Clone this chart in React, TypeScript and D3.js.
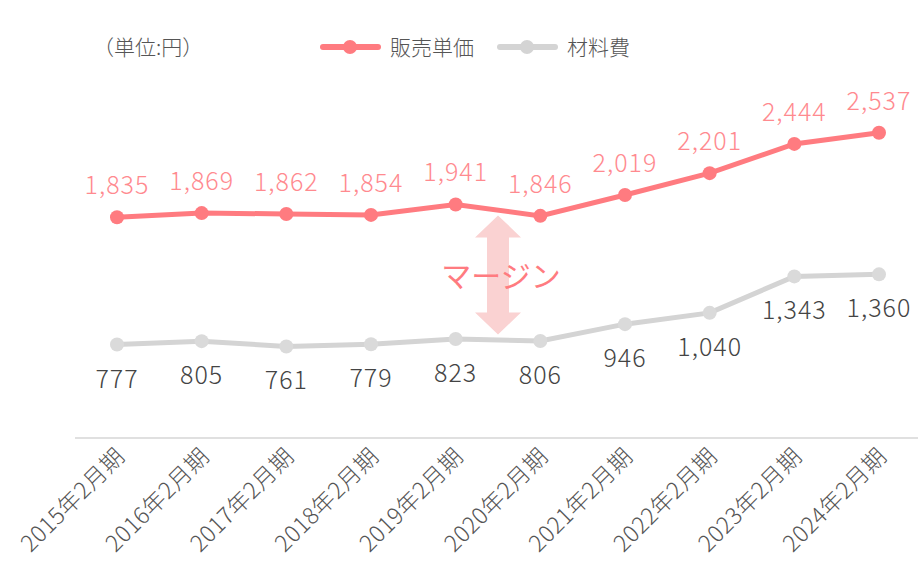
import { useEffect, useRef } from 'react';
import * as d3 from 'd3';

const years = ['2015年2月期', '2016年2月期', '2017年2月期', '2018年2月期', '2019年2月期', '2020年2月期', '2021年2月期', '2022年2月期', '2023年2月期', '2024年2月期'];
const salesPrice = [1835, 1869, 1862, 1854, 1941, 1846, 2019, 2201, 2444, 2537];
const materialCost = [777, 805, 761, 779, 823, 806, 946, 1040, 1343, 1360];
const marginRange = [1850, 860];

const RED = '#ff7b80';
const GRAY = '#d4d4d4';
const FONT = '"Noto Sans CJK JP", "Noto Sans", sans-serif';

const App = () => {
  const ref = useRef<SVGSVGElement>(null);

  const drawChart = () => {
    const width = 918;
    const svg = d3.select(ref.current);
    svg.selectAll('*').remove();

    const xScale = d3.scalePoint<string>()
      .domain(years)
      .range([117, 879]);

    const yScale = d3.scaleLinear()
      .domain([0, 3000])
      .range([438, 77]);

    // baseline
    svg.append('line')
      .attr('x1', 75).attr('x2', width)
      .attr('y1', yScale(0)).attr('y2', yScale(0))
      .attr('stroke', '#d6d6d6').attr('stroke-width', 1.5);

    // x labels
    svg.append('g').selectAll('text')
      .data(years)
      .join('text')
      .attr('transform', d => `translate(${(xScale(d) as number) + 9},${yScale(0) + 20}) rotate(-45)`)
      .attr('text-anchor', 'end')
      .attr('font-family', FONT)
      .attr('font-size', 23)
      .attr('font-weight', 300)
      .attr('letter-spacing', 0.5)
      .attr('fill', '#555')
      .text(d => d);

    // margin arrow
    const ax = ((xScale(years[4]) as number) + (xScale(years[5]) as number)) / 2;
    const yTop = yScale(marginRange[0]);
    const yBot = yScale(marginRange[1]);
    const hw = 23, sw = 11, hh = 22;
    svg.append('path')
      .attr('d', `M${ax},${yTop} L${ax + hw},${yTop + hh} L${ax + sw},${yTop + hh} L${ax + sw},${yBot - hh} L${ax + hw},${yBot - hh} L${ax},${yBot} L${ax - hw},${yBot - hh} L${ax - sw},${yBot - hh} L${ax - sw},${yTop + hh} L${ax - hw},${yTop + hh} Z`)
      .attr('fill', '#fad2d2');
    svg.append('text')
      .attr('x', ax + 3)
      .attr('y', (yTop + yBot) / 2 + 12)
      .attr('text-anchor', 'middle')
      .attr('font-family', FONT)
      .attr('font-size', 30)
      .attr('fill', RED)
      .text('マージン');

    const line = d3.line<number>()
      .x((d, i) => xScale(years[i]) as number)
      .y(d => yScale(d));

    const series = [
      { values: materialCost, color: GRAY, dot: '#dadada', text: '#444', dy: 43 },
      { values: salesPrice, color: RED, dot: RED, text: '#ff8a8f', dy: -23 },
    ];

    series.forEach(s => {
      svg.append('path')
        .datum(s.values)
        .attr('fill', 'none')
        .attr('stroke', s.color)
        .attr('stroke-width', 5)
        .attr('d', line);
      svg.append('g').selectAll('circle')
        .data(s.values)
        .join('circle')
        .attr('cx', (d, i) => xScale(years[i]) as number)
        .attr('cy', d => yScale(d))
        .attr('r', 7)
        .attr('fill', s.dot);
      svg.append('g').selectAll('text')
        .data(s.values)
        .join('text')
        .attr('x', (d, i) => xScale(years[i]) as number)
        .attr('y', d => yScale(d) + s.dy)
        .attr('text-anchor', 'middle')
        .attr('font-family', FONT)
        .attr('font-size', 25)
        .attr('font-weight', 300)
        .attr('letter-spacing', 1)
        .attr('fill', s.text)
        .text(d => d3.format(',')(d));
    });

    // unit + legend
    svg.append('text')
      .attr('x', 93).attr('y', 55)
      .attr('font-family', FONT).attr('font-size', 21).attr('font-weight', 300).attr('fill', '#555')
      .text('（単位:円）');

    const legend = [
      { name: '販売単価', color: RED, x: 323 },
      { name: '材料費', color: GRAY, x: 500 },
    ];
    legend.forEach(l => {
      const g = svg.append('g');
      g.append('line')
        .attr('x1', l.x).attr('x2', l.x + 55)
        .attr('y1', 47).attr('y2', 47)
        .attr('stroke', l.color).attr('stroke-width', 6).attr('stroke-linecap', 'round');
      g.append('circle').attr('cx', l.x + 27).attr('cy', 47).attr('r', 7).attr('fill', l.color);
      g.append('text')
        .attr('x', l.x + 67).attr('y', 55)
        .attr('font-family', FONT).attr('font-size', 21).attr('font-weight', 300).attr('fill', '#555')
        .text(l.name);
    });
  };

  useEffect(() => {
    drawChart();
  }, []);

  return (
    <svg ref={ref} width={918} height={570}
      style={{ position: 'absolute', left: 0, top: 0, background: '#fff' }} />
  );
};

export default App;
